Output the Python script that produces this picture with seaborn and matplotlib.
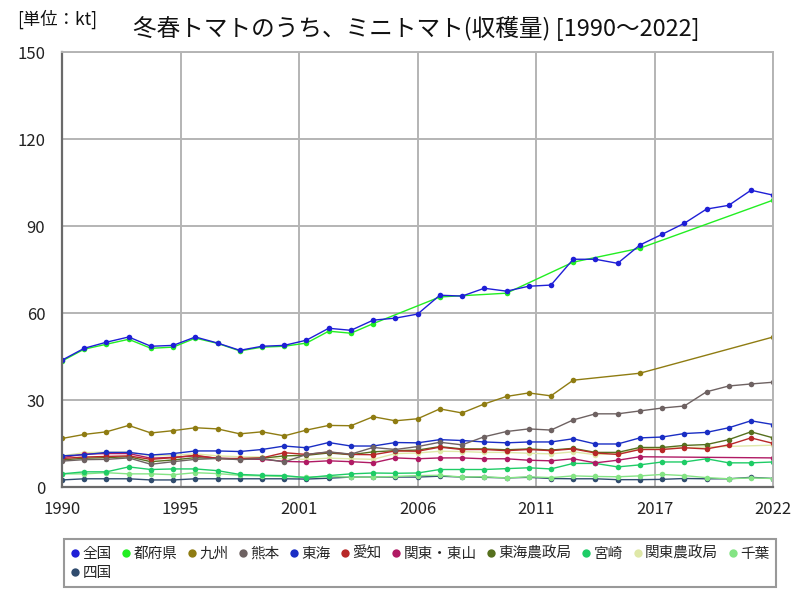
import numpy as np
import pandas as pd
import seaborn as sns
import matplotlib.pyplot as plt
from matplotlib.lines import Line2D

nan = np.nan

# Years on the x axis
years = list(range(1990, 2023))

# Harvest of mini tomatoes (kt)
zenkoku = [43.8, 47.9, 50.0, 51.8, 48.6, 48.9, 51.8, 49.7, 47.2, 48.6, 48.9, 50.7, 54.8, 54.1, 57.6, 58.3, 59.7,
           66.2, 65.9, 68.6, 67.6, 69.3, 69.7, 78.6, 78.6, 77.2, 83.5, 87.2, 91.0, 95.9, 97.2, 102.4, 100.7]
tofuken = [43.5, 47.6, 49.3, 51.0, 47.9, 48.3, 51.4, 49.6, 47.0, 48.3, 48.6, 49.7, 53.8, 53.1, 56.4, nan, nan,
           65.6, nan, nan, 66.9, nan, nan, 77.6, nan, nan, 82.4, nan, nan, nan, nan, nan, 99.0]
kyushu = [16.8, 18.2, 19.1, 21.3, 18.7, 19.5, 20.5, 20.1, 18.4, 19.1, 17.7, 19.7, 21.3, 21.2, 24.3, 22.9, 23.6,
          27.0, 25.6, 28.7, 31.3, 32.5, 31.5, 36.9, nan, nan, 39.3, nan, nan, nan, nan, nan, 51.8]
kumamoto = [9.0, 9.5, 9.6, 10.1, 7.9, 8.8, 9.6, 9.9, 9.5, 9.9, 8.7, 11.3, 12.2, 11.4, 13.7, 13.0, 14.0,
            15.5, 14.6, 17.4, 19.2, 20.1, 19.7, 23.2, 25.3, 25.3, 26.3, 27.3, 28.0, 32.9, 34.9, 35.6, 36.2]
tokai = [10.8, 11.2, 12.0, 12.0, 11.1, 11.6, 12.5, 12.5, 12.3, 13.0, 14.2, 13.6, 15.4, 14.2, 14.2, 15.4, 15.3,
         16.4, 16.1, 15.6, 15.3, 15.6, 15.6, 16.7, 14.9, 14.9, 17.0, 17.3, 18.5, 18.9, 20.5, 22.9, 21.6]
aichi = [9.9, 10.4, 10.6, 10.8, 9.6, 10.2, 11.0, 9.9, 9.9, 10.1, 11.9, 11.3, 12.1, 11.3, 11.2, 12.5, 12.4,
         13.8, 13.0, 13.0, 12.6, 13.0, 12.6, 13.2, 11.8, 11.3, 13.0, 13.0, 13.6, 13.2, 14.6, 17.0, 15.1]
kanto_tosan = [10.2, 11.4, 11.6, 11.6, 10.0, 10.3, 10.8, 10.0, 9.7, 9.6, 8.9, 8.7, 9.1, 8.8, 8.4, 10.1, 9.8,
               10.1, 10.1, 9.8, 9.8, 9.3, 9.1, 9.8, 8.4, 9.3, 10.5, nan, nan, nan, nan, nan, 10.1]
tokai_nosei = [9.4, 10.0, 10.2, 10.5, 8.8, 9.4, 10.2, 9.9, 9.8, 10.0, 10.8, 11.0, 11.8, 11.2, 12.2, 12.6, 12.8,
               14.0, 13.2, 13.2, 12.9, 13.2, 12.8, 13.4, 12.0, 12.0, 13.7, 13.7, 14.4, 14.7, 16.4, 19.1, 17.0]
miyazaki = [4.6, 5.3, 5.3, 7.0, 6.1, 6.3, 6.3, 5.7, 4.4, 4.1, 4.0, 3.3, 4.0, 4.6, 4.9, 4.8, 4.9,
            6.1, 6.1, 6.1, 6.4, 6.7, 6.3, 8.2, 8.2, 7.0, 7.7, 8.7, 8.7, 9.8, 8.4, 8.4, 8.7]
kanto_nosei = [10.8, 11.9, 12.1, 12.1, 10.8, 11.0, 11.5, 10.8, 10.5, 10.4, 9.8, 9.6, 10.0, 9.8, 9.6, 11.6, 11.8,
               12.4, 12.3, 12.0, 12.0, 11.7, 11.5, 12.2, 11.2, 11.6, 13.2, nan, nan, nan, nan, nan, 14.5]
chiba = [4.6, 4.6, 5.0, 4.6, 4.6, 4.3, 5.0, 4.7, 4.1, 3.9, 3.7, 3.4, 3.7, 3.5, 3.5, 3.7, 4.0,
         4.1, 3.5, 3.6, 3.2, 3.6, 3.3, 3.9, 3.7, 3.6, 3.9, 4.4, 4.0, 3.3, 2.9, 3.2, 3.0]
shikoku = [2.5, 2.9, 2.9, 2.9, 2.5, 2.5, 2.9, 2.9, 2.9, 2.9, 2.9, 2.8, 3.1, 3.5, 3.5, 3.5, 3.5,
           3.8, 3.5, 3.4, 3.2, 3.4, 3.0, 2.9, 2.9, 2.6, 2.6, 2.7, 3.0, 2.9, 2.9, 3.4, 3.0]

names = ['全国', '都府県', '九州', '熊本', '東海', '愛知', '関東・東山', '東海農政局', '宮崎', '関東農政局', '千葉', '四国']
series = [zenkoku, tofuken, kyushu, kumamoto, tokai, aichi, kanto_tosan, tokai_nosei, miyazaki, kanto_nosei,
          chiba, shikoku]
colors = ['#1f1fd6', '#22ee22', '#8f7c12', '#6e6262', '#1a2ec4', '#b82828', '#b01a64', '#56701e',
          '#1ecc66', '#dfe8a8', '#84e484', '#304c6e']

# x tick positions: 6 equal divisions of the year range
x_ticks = [1990 + 32 / 6 * k for k in range(7)]
x_labels = ['1990', '1995', '2001', '2006', '2011', '2017', '2022']
y_ticks = [0, 30, 60, 90, 120, 150]


def make_long_df():
    """long table, missing years dropped so the lines jump over them"""
    frames = []
    for n, s in zip(names, series):
        frames.append(pd.DataFrame({'year': years, 'value': s, 'name': n}))
    df = pd.concat(frames, ignore_index=True)
    return df.dropna()


def plot_chart(df):
    sns.set_style('white')
    plt.rcParams['font.family'] = ['Noto Sans CJK JP', 'DejaVu Sans']

    fig = plt.figure(figsize=(8, 6), dpi=100)
    ax = fig.add_axes([0.0775, 0.188, 0.889, 0.725])

    # draw the smaller series last-to-first so the big ones stay on top like the reference
    for n, c in list(zip(names, colors))[::-1]:
        sub = df[df['name'] == n]
        sns.lineplot(data=sub, x='year', y='value', ax=ax, color=c, marker='o', markersize=4,
                     markeredgewidth=0, linewidth=1, legend=False, sort=True)

    ax.set_xlim(1990, 2022)
    ax.set_ylim(0, 150)
    ax.set_xticks(x_ticks)
    ax.set_xticklabels(x_labels)
    ax.set_yticks(y_ticks)
    ax.set_xlabel('')
    ax.set_ylabel('')
    ax.tick_params(axis='x', labelsize=12, length=0, pad=10, colors='#222222')
    ax.tick_params(axis='y', labelsize=12, length=0, pad=12, colors='#222222')
    ax.grid(True, color='#b4b4b4', linewidth=1.4)
    for side in ['top', 'right']:
        ax.spines[side].set_color('#b4b4b4')
        ax.spines[side].set_linewidth(1.4)
    for side in ['left', 'bottom']:
        ax.spines[side].set_color('#6a6a6a')
        ax.spines[side].set_linewidth(1.6)

    fig.text(0.52, 0.953, '冬春トマトのうち、ミニトマト(収穫量) [1990～2022]', ha='center', va='center',
             fontsize=17, color='#111111')
    fig.text(0.022, 0.967, '[単位：kt]', ha='left', va='center', fontsize=12.5, color='#111111')

    # legend is filled column by column, so put 四国 second to land it on the second row
    order = [0, 11] + list(range(1, 11))
    handles = [Line2D([], [], linestyle='', marker='o', markersize=6, markeredgewidth=0, color=colors[i])
               for i in order]
    labels = [names[i] for i in order]
    leg = fig.legend(handles, labels, loc='upper left', bbox_to_anchor=(0.071, 0.113),
                     ncol=11, fontsize=10.5, frameon=True, fancybox=False, handlelength=0.5,
                     handletextpad=0.25, columnspacing=0.75, borderpad=0.5, labelspacing=0.35)
    leg.get_frame().set_edgecolor('#808080')
    leg.get_frame().set_linewidth(1.5)

    fig.savefig('out.png', dpi=100)


if __name__ == '__main__':
    d = make_long_df()
    plot_chart(d)
